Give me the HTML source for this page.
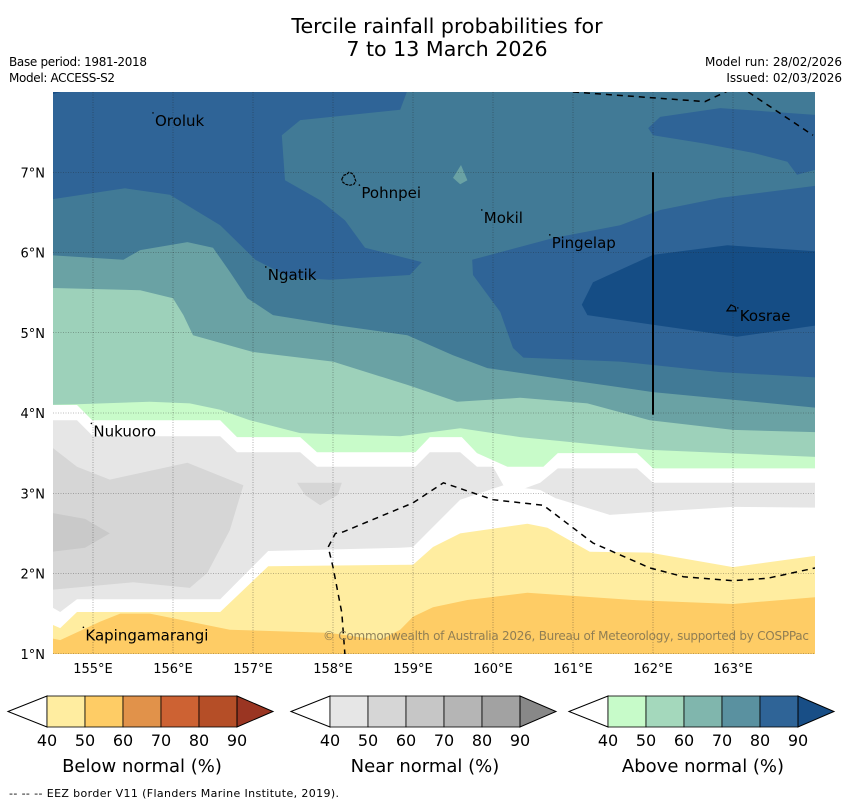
<!DOCTYPE html>
<html><head><meta charset="utf-8"><style>
body{margin:0;background:#fff;}
svg text{font-family:"DejaVu Sans","Liberation Sans",sans-serif;}
</style></head><body>
<svg id="chart" width="850" height="804" viewBox="0 0 850 804" xmlns="http://www.w3.org/2000/svg">
<text x="447" y="33" font-size="20.6" text-anchor="middle">Tercile rainfall probabilities for</text>
<text x="447" y="56" font-size="20.6" text-anchor="middle">7 to 13 March 2026</text>
<text x="9" y="66" font-size="12" textLength="138">Base period: 1981-2018</text>
<text x="9" y="82" font-size="12" textLength="106">Model: ACCESS-S2</text>
<text x="842" y="66" font-size="12" text-anchor="end">Model run: 28/02/2026</text>
<text x="842" y="82" font-size="12" text-anchor="end">Issued: 02/03/2026</text>
<defs><clipPath id="mapclip"><rect x="53" y="92" width="762" height="562"/></clipPath></defs>
<g id="map" clip-path="url(#mapclip)"></g>
<g id="overlay"></g>
<g id="bars"></g>
<text x="9" y="797" font-size="11" textLength="330">--  --  -- EEZ border V11 (Flanders Marine Institute, 2019).</text>
</svg>
<script>
// ---- data (lon/lat) ----
const lonTicks = [155,156,157,158,159,160,161,162,163];
const latTicks = [1,2,3,4,5,6,7];
const bandFill = ["#2f6497"]; // base fill: above normal 80-90
const above7080 = [158.96,8.1, 164.1,8.1, 164.1,0.9, 154.4,0.9, 154.4,6.65, 155.4,6.80, 155.96,6.72, 156.59,6.34, 157.03,5.91, 157.46,5.69, 157.96,5.66, 158.96,5.72, 159.11,5.88, 158.40,6.06, 158.15,6.40, 157.84,6.65, 157.40,6.90, 157.36,7.46, 157.59,7.65, 158.84,7.78];
const above8090a = [161.94,7.55, 162.09,7.69, 162.84,7.80, 164.1,7.71, 164.1,7.05, 163.8,6.97, 163.68,7.13, 163.26,7.24, 162.63,7.36, 162.0,7.46];
const above8090b = [159.74,5.91, 160.75,6.18, 161.59,6.34, 162.09,6.53, 162.84,6.68, 164.1,6.84, 164.1,4.44, 162.84,4.51, 161.59,4.64, 160.38,4.69, 160.25,4.81, 160.09,5.26, 159.75,5.72];
const above90 = [161.11,5.35, 161.25,5.63, 162.0,5.97, 162.93,6.09, 164.1,6.01, 164.1,5.10, 163.05,4.95, 162.0,5.10, 161.18,5.22];
const above6070blob = [159.5,6.93, 159.6,7.09, 159.68,6.90, 159.59,6.85];
const top6070 = [154.4,5.97, 155.38,5.91, 155.59,6.03, 156.18,6.13, 156.5,6.06, 156.71,5.76, 156.93,5.43, 157.25,5.22, 158.0,5.10, 158.93,4.97, 159.5,4.72, 159.93,4.56, 160.75,4.44, 162.0,4.26, 164.1,4.06];
const top5060 = [154.4,5.56, 155.59,5.53, 156.0,5.43, 156.13,5.22, 156.25,4.97, 157.0,4.76, 158.0,4.64, 158.93,4.35, 159.55,4.14, 160.34,4.19, 161.18,4.12, 161.96,3.91, 163.0,3.79, 164.1,3.76];
const topGreen = [154.4,4.10, 154.8,4.11, 155.71,4.14, 156.21,4.12, 156.59,4.04, 156.96,3.91, 157.59,3.75, 158.84,3.71, 159.59,3.81, 160.34,3.70, 161.96,3.54, 164.1,3.45];
const topWhite1 = [154.4,4.10, 154.8,4.10, 154.99,3.91, 156.59,3.91, 156.8,3.70, 157.59,3.70, 157.8,3.51, 159.03,3.51, 159.21,3.70, 159.61,3.70, 159.8,3.50, 160.18,3.33, 160.63,3.33, 160.81,3.50, 161.8,3.50, 162.0,3.31, 164.1,3.31];
const topNear = [154.4,3.91, 154.8,3.91, 155.0,3.71, 156.59,3.71, 156.8,3.51, 157.59,3.51, 157.8,3.33, 159.03,3.33, 159.21,3.51, 159.59,3.51, 159.8,3.33, 160.0,3.33, 160.13,3.10, 160.34,3.04, 160.59,3.13, 160.81,3.31, 161.8,3.31, 162.0,3.13, 164.1,3.13];
const topWhite2 = [154.4,1.63, 154.59,1.52, 154.8,1.68, 156.59,1.68, 157.19,2.28, 158.84,2.32, 159.0,2.33, 159.59,2.92, 160.13,3.10, 160.34,3.07, 160.59,3.04, 160.78,2.94, 161.46,2.73, 162.34,2.79, 163.0,2.83, 164.1,2.82];
const topBelow4050 = [154.4,1.40, 154.59,1.32, 154.8,1.52, 156.59,1.52, 157.19,2.09, 159.0,2.11, 159.25,2.33, 159.59,2.50, 160.43,2.62, 160.68,2.57, 161.21,2.27, 161.96,2.26, 163.0,2.08, 164.1,2.23];
const topBelow5060 = [154.4,1.21, 154.59,1.17, 155.09,1.40, 155.34,1.50, 155.71,1.50, 156.21,1.40, 156.71,1.30, 157.96,1.26, 158.59,1.17, 158.84,1.30, 159.0,1.46, 159.25,1.58, 159.68,1.67, 160.43,1.76, 161.75,1.67, 163.0,1.62, 164.1,1.71];
const near5060 = [154.4,3.64, 154.8,3.33, 155.21,3.17, 156.18,3.38, 156.88,3.10, 156.71,2.54, 156.43,2.01, 156.21,1.82, 155.5,1.89, 154.4,1.79];
const near6070 = [154.4,2.77, 154.9,2.68, 155.21,2.50, 154.9,2.32, 154.4,2.26];
const near5060b = [157.55,3.13, 158.11,3.13, 158.06,2.98, 157.84,2.85, 157.65,2.98];
const eezTop1 = [161.0,8.0, 162.65,7.88, 162.95,8.02];
const eezTop2 = [163.19,8.0, 164.0,7.46];
const eezSouth = [158.15,0.98, 158.11,1.51, 158.0,2.08, 157.94,2.33, 158.03,2.50, 158.13,2.52, 159.0,2.88, 159.38,3.13, 160.0,2.92, 160.63,2.85, 161.25,2.38, 161.96,2.07, 162.38,1.96, 163.0,1.91, 163.43,1.94, 164.03,2.07];
const boundaryLine = [162.0,7.0, 162.0,3.98];
const islandNames = ["Oroluk","Pohnpei","Mokil","Pingelap","Ngatik","Kosrae","Nukuoro","Kapingamarangi"];
const islandLon = [155.75,158.33,159.86,160.71,157.16,163.06,154.98,154.88];
const islandLat = [7.74,6.84,6.53,6.22,5.82,5.31,3.87,1.33];
const cbTicks = ["40","50","60","70","80","90"];
const cbTitles = ["Below normal (%)","Near normal (%)","Above normal (%)"];
const cbColors = [["#ffeda0","#fecc65","#e1924a","#cd6233","#b54e27","#9a3522"],["#e6e6e6","#d6d6d6","#c6c6c6","#b5b5b5","#a2a2a2","#888888"],["#c7fbc9","#a4d8bc","#80b6ad","#5a91a0","#2f6497","#184e86"]];

// ---- axis functions ----
const NS="http://www.w3.org/2000/svg";
const X = lon => 53 + (lon-154.5)*80;
const Y = lat => 92 + (8-lat)*80.25;
function pts(a){let s=[];for(let i=0;i<a.length;i+=2)s.push(X(a[i]).toFixed(1)+","+Y(a[i+1]).toFixed(1));return s.join(" ");}
function mk(tag,attrs,parent){const e=document.createElementNS(NS,tag);for(const k in attrs)e.setAttribute(k,attrs[k]);parent.appendChild(e);return e;}
const map=document.getElementById("map"), ov=document.getElementById("overlay"), bars=document.getElementById("bars");
function poly(a,fill,name){const p=mk("polygon",{points:pts(a),fill:fill},map);

return p;}
function band(top,fill,name){poly(top.concat([164.1,0.9,154.4,0.9]),fill,name);}

let bg=mk("rect",{x:53,y:92,width:762,height:562,fill:bandFill[0]},map);


poly(above7080,"#417a96","above-70-80-region");
poly(above8090a,"#2f6497","above-80-90-north");
poly(above8090b,"#2f6497","above-80-90-central");
poly(above90,"#154d85","above-90-kosrae");
poly(above6070blob,"#6aa2a4","above-60-70-blob");
poly([154.4,8.1,155.0,8.1,154.4,7.95],"#184e86","above-90-corner");
band(top6070,"#6aa2a4","above-60-70-band");
band(top5060,"#9dd1ba","above-50-60-band");
band(topGreen,"#c8fbc9","above-40-50-band");
band(topWhite1,"#ffffff","no-signal-band-north");
band(topNear,"#e6e6e6","near-40-50-band");
poly(near5060,"#d6d6d6","near-50-60-west");
poly(near6070,"#c9c9c9","near-60-70-west");
poly(near5060b,"#d6d6d6","near-50-60-small");
band(topWhite2,"#ffffff","no-signal-band-south");
band(topBelow4050,"#ffeda0","below-40-50-band");
band(topBelow5060,"#fecc65","below-50-60-band");

// gridlines
lonTicks.forEach(l=>{const g=mk("line",{x1:X(l),x2:X(l),y1:92,y2:654,stroke:"#222","stroke-width":0.6,"stroke-dasharray":"1,1.5","stroke-opacity":0.6},map);


const t=mk("text",{x:X(l),y:673,"font-size":13,"text-anchor":"middle"},ov);t.textContent=l+"°E";

});
latTicks.forEach(l=>{const g=mk("line",{x1:53,x2:815,y1:Y(l),y2:Y(l),stroke:"#222","stroke-width":0.6,"stroke-dasharray":"1,1.5","stroke-opacity":0.6},map);


const t=mk("text",{x:45,y:Y(l)+5,"font-size":13,"text-anchor":"end"},ov);t.textContent=l+"°N";

});

// lines
function pl(a,attrs,name){const p=mk("polyline",Object.assign({points:pts(a),fill:"none"},attrs),map);

}
const dash={stroke:"#000","stroke-width":1.5,"stroke-dasharray":"6,5"};
pl(eezTop1,dash,"eez-border-north-1");
pl(eezTop2,dash,"eez-border-north-2");
pl(eezSouth,dash,"eez-border-south");
pl(boundaryLine,{stroke:"#000","stroke-width":2},"boundary-line");

// islands
const pX=X(158.21), pY=Y(6.9);
const pohn=mk("path",{d:`M${pX-8},${pY-1} l2,-4 l3,-1 l2,-2 l3,1 l2,2 l1,3 l1,3 l-2,3 l-4,1 l-4,-1 l-3,-2 z`,fill:"none",stroke:"#000","stroke-width":1.2,"stroke-dasharray":"3,1"},map);


const kX=X(163.0), kY=Y(5.31);
const kos=mk("path",{d:`M${kX-6},${kY+3} l4,-6 l4,2 l1,4 z`,fill:"none",stroke:"#000","stroke-width":1.2},map);


islandNames.forEach((n,i)=>{const x=X(islandLon[i]), y=Y(islandLat[i]);
const d=mk("circle",{cx:x,cy:y,r:0.8,fill:"#000"},ov);


const t=mk("text",{x:x+2,y:y+13,"font-size":15,fill:"#000"},ov);t.textContent=n;

});
const cp=mk("text",{x:809,y:640,"font-size":12,"text-anchor":"end",fill:"#7c7050","fill-opacity":0.85,textLength:486},ov);
cp.textContent="© Commonwealth of Australia 2026, Bureau of Meteorology, supported by COSPPac";



// colorbars
const cbLeft=[47,330,608];
cbLeft.forEach((x0,k)=>{const w=38, yT=696, yB=727, yM=711.5;
const tl=mk("polygon",{points:`${x0-39},${yM} ${x0},${yT} ${x0},${yB}`,fill:"#fff",stroke:"#000","stroke-width":1},bars);


for(let i=0;i<5;i++){const r=mk("rect",{x:x0+i*w,y:yT,width:w,height:yB-yT,fill:cbColors[k][i],stroke:"#000","stroke-width":0.8},bars);

}
const tr=mk("polygon",{points:`${x0+5*w},${yT} ${x0+5*w+36},${yM} ${x0+5*w},${yB}`,fill:cbColors[k][5],stroke:"#000","stroke-width":1},bars);


cbTicks.forEach((v,i)=>{const t=mk("text",{x:x0+i*w,y:746,"font-size":16,"text-anchor":"middle"},bars);t.textContent=v;

});
const tt=mk("text",{x:x0+2.5*w,y:772,"font-size":18,"text-anchor":"middle"},bars);tt.textContent=cbTitles[k];

});
</script>
</body></html>
